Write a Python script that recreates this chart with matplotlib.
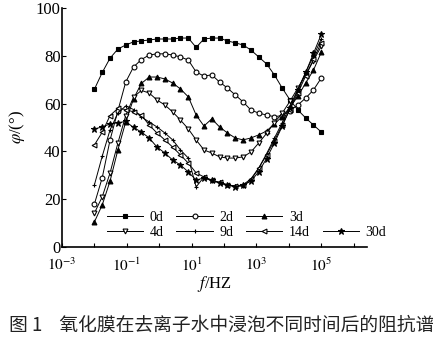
import matplotlib
matplotlib.use("Agg")
import matplotlib.pyplot as plt
from matplotlib.lines import Line2D

plt.rcParams["font.family"] = ["Liberation Serif", "DejaVu Serif"]
plt.rcParams["mathtext.fontset"] = "stix"

# frequency (Hz), 30 points per sweep
freq = [0.01, 0.01743, 0.0304, 0.05298, 0.09237, 0.161, 0.2807, 0.4894,
        0.8532, 1.487, 2.593, 4.52, 7.88, 13.74, 23.95, 41.75, 72.79, 126.9,
        221.2, 385.7, 672.4, 1172, 2044, 3563, 6212, 10830, 18880, 32910,
        57380, 100000]

phi_0d = [66, 73, 79, 82.8, 84.5, 85.8, 86.2, 86.6, 87, 87, 87, 87.4, 87.4,
          83.5, 87, 87.4, 87.4, 86.2, 85.4, 84.5, 82.4, 79.5, 76.6, 72,
          66.5, 61.5, 57.3, 54, 51, 48.1]
phi_2d = [18, 29, 44.8, 57, 69, 75.3, 78.4, 80.3, 80.8, 80.8, 80.3, 79.5,
          78.2, 73.2, 71.5, 72, 69, 66.5, 63.6, 60.7, 57.3, 56, 55.2, 54.5,
          55, 57, 59.4, 62.3, 65.7, 70.7]
phi_3d = [10.5, 17.6, 27.6, 40.6, 52.3, 62, 68.4, 71.1, 71.1, 70.3, 68.6,
          66.1, 62.8, 55.2, 50.6, 53.6, 50.2, 47.7, 45.6, 44.8, 45.6, 46.9,
          48.5, 51.5, 54.5, 58.5, 63, 68.6, 74, 81.5]
phi_4d = [14.2, 21, 31, 43.5, 55, 62.7, 65.5, 64.4, 61.5, 59.4, 56.5, 53.1,
          49.4, 44.8, 40.6, 39.3, 37.7, 37.2, 37.2, 37.7, 39.7, 43.5, 47.5,
          52, 56, 61, 66.5, 72, 78, 84]
phi_9d = [26, 38, 49, 56, 59, 57.5, 54.4, 52.3, 50.2, 47.7, 44.8, 40.6,
          37.2, 25.1, 29.3, 27.5, 27, 26, 25.5, 25.5, 28, 33, 39, 45.5, 52,
          59, 66, 73, 80, 87]
phi_14d = [42.7, 48, 55, 58, 57.5, 56.5, 55.2, 51, 47.7, 44.8, 41.8, 38.5,
           35.1, 31, 29.3, 28, 27, 26, 25.5, 26, 28.5, 33, 38.5, 44.5, 51,
           57.5, 64.5, 71.5, 78.5, 85.5]
phi_30d = [49.4, 50.2, 51.5, 52, 52.5, 50, 48.1, 45.6, 41.8, 39.3, 36.4,
           34.3, 31.4, 28, 28.9, 28, 26.8, 25.9, 25.1, 25.9, 27.5, 31.5, 37,
           43.5, 50.5, 58, 65.5, 73, 81, 89]

series = [
    ("0d", phi_0d, "s", "black"),
    ("2d", phi_2d, "o", "white"),
    ("3d", phi_3d, "^", "black"),
    ("4d", phi_4d, "v", "white"),
    ("9d", phi_9d, "+", "black"),
    ("14d", phi_14d, "<", "white"),
    ("30d", phi_30d, "*", "black"),
]

fig = plt.figure(figsize=(4.33, 3.42), dpi=100)
ax = fig.add_axes([0.1432, 0.2778, 0.7044, 0.699])

handles = {}
for name, vals, mk, face in series:
    ms = 4.5 if mk == "*" else 3.5
    (h,) = ax.plot(freq, vals, color="black", lw=0.7, marker=mk, ms=ms,
                   mfc=face, mec="black", mew=0.8, label=name)
    handles[name] = h

ax.set_xscale("log")
ax.set_xlim(1e-3, 10 ** 6.41)
ax.set_ylim(0, 100)

ax.spines["right"].set_visible(False)
ax.spines["top"].set_visible(False)
ax.spines["left"].set_linewidth(1.2)
ax.spines["bottom"].set_linewidth(1.2)

xt = [10.0 ** e for e in range(-3, 7)]
ax.set_xticks(xt)
ax.set_xticklabels([r"$10^{%d}$" % e if e % 2 else "" for e in range(-3, 7)])
ax.minorticks_off()
ax.set_yticks([0, 20, 40, 60, 80, 100])
ax.tick_params(axis="x", direction="in", length=3, labelsize=11, pad=7)
ax.tick_params(axis="y", direction="in", length=3, labelsize=12, pad=1)

ax.set_xlabel(r"$f$/HZ", fontsize=12, labelpad=0)
ax.set_ylabel(r"$\varphi$/(°)", fontsize=12, labelpad=6)

blank = Line2D([], [], linestyle="none", marker="none")
order_h = [handles["0d"], handles["4d"], handles["2d"], handles["9d"],
           handles["3d"], handles["14d"], blank, handles["30d"]]
order_l = ["0d", "4d", "2d", "9d", "3d", "14d", "", "30d"]
ax.legend(order_h, order_l, ncol=4, loc="lower left",
          bbox_to_anchor=(0.12, 0.0), frameon=False, fontsize=10,
          handlelength=2.6, handletextpad=0.5, columnspacing=0.9,
          labelspacing=0.15, borderaxespad=0.2)

fig.text(0.02, 0.05, "图 1    氧化膜在去离子水中浸泡不同时间后的阻抗谱",
         fontsize=13.5, family=["Noto Sans CJK SC", "DejaVu Sans"],
         color="#222222", va="center", ha="left")

fig.savefig("out.png", dpi=100)
